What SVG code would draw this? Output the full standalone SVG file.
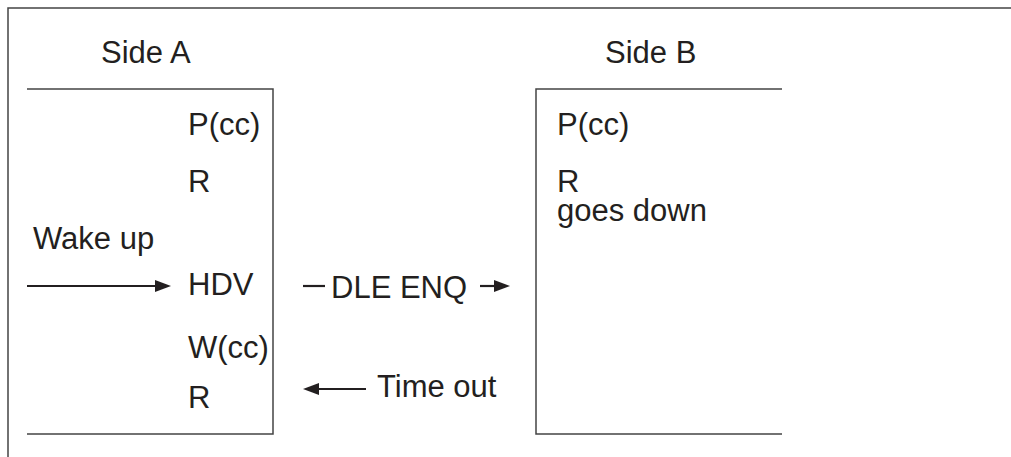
<svg xmlns="http://www.w3.org/2000/svg" width="1011" height="457" viewBox="0 0 1011 457">
<style>
.t{font-family:"Liberation Sans",Arial,sans-serif;font-size:31px;fill:#231f20}
.fr{fill:none;stroke:#444;stroke-width:1.5}
.c{stroke:#231f20;stroke-width:2.2;fill:none}
.h{fill:#231f20}
</style>
<rect width="1011" height="457" fill="#fff"/>
<g id="frame"><path class="fr" d="M8,457 V8 H1011"/></g>
<g id="sideA">
<text class="t" x="101" y="63">Side A</text>
<path class="fr" d="M27,89 H273 V434 H27"/>
<text class="t" x="188" y="135">P(cc)</text>
<text class="t" x="188" y="192">R</text>
<text class="t" x="188" y="295">HDV</text>
<text class="t" x="188" y="358">W(cc)</text>
<text class="t" x="188" y="408">R</text>
</g>
<g id="sideB">
<text class="t" x="605" y="63">Side B</text>
<path class="fr" d="M782,89 H536 V434 H782"/>
<text class="t" x="557" y="135">P(cc)</text>
<text class="t" x="557" y="192">R</text>
<text class="t" x="557" y="221">goes down</text>
</g>
<g id="connectors">
<text class="t" x="33" y="249">Wake up</text>
<line class="c" x1="27" y1="286" x2="158" y2="286"/>
<polygon class="h" points="171,286 155,280 155,292"/>
<line class="c" x1="303" y1="286" x2="325" y2="286"/>
<text class="t" x="331" y="298">DLE ENQ</text>
<line class="c" x1="480" y1="286" x2="497" y2="286"/>
<polygon class="h" points="510,286 494,280 494,292"/>
<polygon class="h" points="303,389 319,383 319,395"/>
<line class="c" x1="316" y1="389" x2="366" y2="389"/>
<text class="t" x="377" y="397">Time out</text>
</g>
</svg>
